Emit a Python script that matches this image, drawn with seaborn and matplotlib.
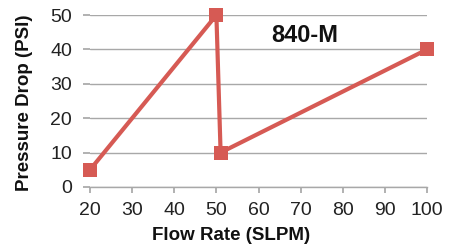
import matplotlib
matplotlib.use("Agg")
import matplotlib.pyplot as plt
import seaborn as sns
import pandas as pd

flow_rate = [20, 50, 51, 100]
pressure_drop = [5, 50, 10, 40]
x_ticks = [20, 30, 40, 50, 60, 70, 80, 90, 100]
y_ticks = [0, 10, 20, 30, 40, 50]
title = "840-M"

sns.set_theme(style="white")
plt.rcParams['font.family'] = ['Liberation Sans', 'DejaVu Sans']

df = pd.DataFrame({"Flow Rate (SLPM)": flow_rate, "Pressure Drop (PSI)": pressure_drop})

fig = plt.figure(figsize=(4.5, 2.47), dpi=100)
ax = fig.add_axes([0.2, 0.243, 0.749, 0.696])
color = "#d65a54"
sns.lineplot(data=df, x="Flow Rate (SLPM)", y="Pressure Drop (PSI)", sort=False,
             ax=ax, color=color, linewidth=3, marker="s", markersize=10,
             markeredgewidth=0, clip_on=False, zorder=3)

ax.set_xlim(20, 100)
ax.set_ylim(0, 50)
ax.set_xticks(x_ticks)
ax.set_yticks(y_ticks)
ax.yaxis.grid(True, color="#a8a8a8", linewidth=1)
ax.xaxis.grid(False)
for s in ["top", "right", "left"]:
    ax.spines[s].set_visible(False)
ax.spines["bottom"].set_color("#a8a8a8")
ax.spines["bottom"].set_linewidth(1)
ax.tick_params(axis="x", bottom=True, length=4, color="#a8a8a8", labelsize=14, pad=7, labelcolor="#222222")
ax.tick_params(axis="y", left=True, length=5, color="#a8a8a8", labelsize=14, pad=8, labelcolor="#222222")
ax.set_xlabel("Flow Rate (SLPM)", fontsize=13.5, fontweight="bold", color="#111111")
ax.set_ylabel("Pressure Drop (PSI)", fontsize=13.5, fontweight="bold", color="#111111")
ax.xaxis.set_label_coords(0.418, -0.23)
ax.yaxis.set_label_coords(-0.17, 0.49)
ax.text(71, 44, title, fontsize=17, fontweight="bold", ha="center", va="center", color="#111111")

fig.savefig("out.png", dpi=100)
